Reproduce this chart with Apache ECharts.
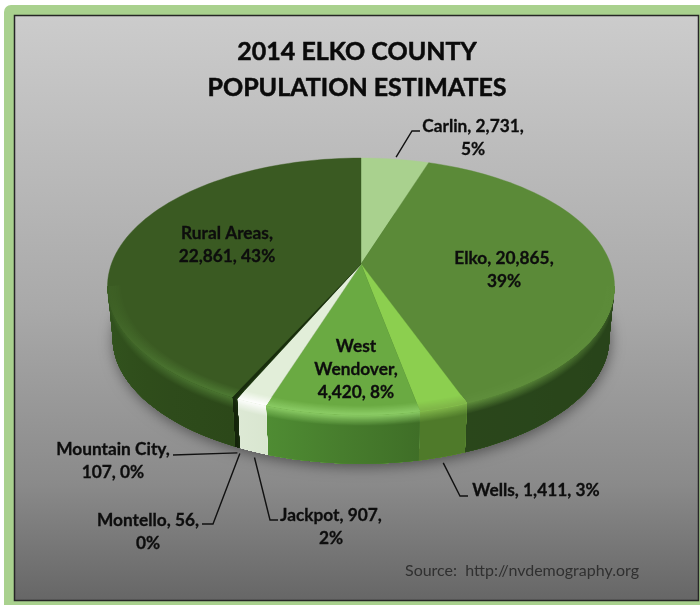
<!DOCTYPE html>
<html>
<head>
<meta charset="utf-8">
<style>html,body{margin:0;padding:0;background:#fff}#chart{width:700px;height:605px}</style>
<script src="https://cdn.jsdelivr.net/npm/echarts@6/dist/echarts.min.js"></script>
</head>
<body>
<div id="chart"></div>
<script>
// Population by place, clockwise from twelve o'clock
var places = ['Carlin', 'Elko', 'Wells', 'West Wendover', 'Jackpot', 'Montello', 'Mountain City', 'Rural Areas'];
var population = [2731, 20865, 1411, 4420, 907, 56, 107, 22861];

// Line breaks used by each slice label: {n} name, {v} value, {p} percent
var labelPatterns = ['{n}, {v},\n{p}', '{n}, {v},\n{p}', '{n}, {v}, {p}', 'West\nWendover,\n{v}, {p}',
  '{n}, {v},\n{p}', '{n}, {v},\n{p}', '{n},\n{v}, {p}', '{n},\n{v}, {p}'];

// Slice appearance: top face, rim highlight, wall colour at start and end of the slice
var faceColors = ['#a9d18e', '#5b8a38', '#8ccf4f', '#6aaa42', '#e2eed9', '#1d3510', '#182c0d', '#3a5a22'];
var rimColors = ['#a9d18e', '#5f8e3c', '#7fb548', '#8acb64', '#ffffff', '#1d3510', '#182c0d', '#4f7c34'];
var wallStart = ['#6b8f52', '#243d17', '#4f7a2a', '#3f6e27', '#d9e6d0', '#16280c', '#14240a', '#2c4819'];
var wallEnd = ['#6b8f52', '#2a471b', '#4f7a2a', '#4f8c33', '#dde9d5', '#16280c', '#14240a', '#3f6a28'];

// Label anchors and leader elbows, in canvas pixels
var labelLayout = [
  { x: 473, y: 138, leader: [[412, 131], [420, 131]], edge: 'top' },
  { x: 504, y: 269.5 },
  { x: 536, y: 490, leader: [[460, 496], [468, 496]], edge: 'bottom' },
  { x: 356, y: 369.5 },
  { x: 331, y: 526.5, leader: [[270, 520], [278, 520]], edge: 'bottom' },
  { x: 148, y: 531.5, leader: [[213, 524], [202, 524]], edge: 'bottom' },
  { x: 113, y: 460.5, leader: [[173, 455]], edge: 'bottom' },
  { x: 227, y: 244.5 }
];

// Perspective of the tilted disc
var disc = { cx: 361, cy: 264, a: 249.6, b: 124.5, k: 0.1748, depth: 52, shrink: 0.98 };
var labelFont = 'Lato, "Open Sans", sans-serif';

var total = population.reduce(function (s, v) { return s + v; }, 0);
var rows = [], running = 0;
population.forEach(function (v, i) {
  rows.push([i, v, running / total * 360, (running + v) / total * 360]);
  running += v;
});

// Angles where the disc's outline turns, beyond which the wall faces away
var rightTurn = Math.acos(-disc.k) * 180 / Math.PI;
var leftTurn = 360 - rightTurn;

// Projects a point of the disc to the screen; h runs 0 (top plane) to 1 (bottom plane)
function project(deg, r, h) {
  var t = deg * Math.PI / 180;
  var X = r * Math.sin(t), Y = r * Math.cos(t);
  var p = 1 + disc.k * Y;
  var s = 1 - (1 - disc.shrink) * h;
  return [disc.cx + s * disc.a * X / p, disc.cy + h * disc.depth - s * disc.b * Y / p];
}

function mix(c1, c2, t) {
  t = Math.max(0, Math.min(1, t));
  var a = echarts.color.parse(c1), b = echarts.color.parse(c2);
  return 'rgb(' + [0, 1, 2].map(function (n) { return Math.round(a[n] + (b[n] - a[n]) * t); }).join(',') + ')';
}
function steps(from, to, size) {
  var n = Math.max(1, Math.ceil((to - from) / size)), out = [];
  for (var i = 0; i <= n; i++) out.push(from + (to - from) * i / n);
  return out;
}
// How directly the rim at this angle faces the viewer, 0 at the outline turns
function frontness(deg) {
  return Math.max(0, (-Math.cos(deg * Math.PI / 180) - disc.k) / (1 - disc.k));
}
// Horizontal gradient along an arc, coloured per angle
function arcGradient(angles, colorAt) {
  var x0 = project(angles[0], 1, 0)[0], x1 = project(angles[angles.length - 1], 1, 0)[0];
  var span = (x1 - x0) || 1;
  var stops = angles.map(function (d) {
    return { offset: Math.max(0, Math.min(1, (project(d, 1, 0)[0] - x0) / span)), color: colorAt(d) };
  });
  return new echarts.graphic.LinearGradient(x0, 0, x1, 0, stops, true);
}

// Outer wall of the disc, with the soft shadow on the backdrop underneath.
// Each band runs from its own height to the floor, so later bands paint over earlier ones.
function renderWall(params, api) {
  var i = api.value(0), from = api.value(2), to = api.value(3);
  var children = [];
  if (i === 0) {
    var ring = steps(0, 360, 3).map(function (d) { return project(d, 1, 1); });
    children.push({
      type: 'polygon', shape: { points: ring },
      style: { fill: '#2a4a1b', shadowBlur: 14, shadowColor: 'rgba(0,0,0,0.45)', shadowOffsetY: 3, shadowOffsetX: 1 }
    });
  }
  var a0 = Math.max(from, rightTurn), a1 = Math.min(to, leftTurn);
  if (a1 <= a0) return { type: 'group', children: children };
  var angles = steps(a0, a1, 2.5);
  var sparse = steps(a0, a1, 8);
  var bandCount = 16, fadeEnd = 0.22;
  for (var b = 0; b < bandCount; b++) {
    var h0 = fadeEnd * b / (bandCount - 1);
    var upper = angles.map(function (d) { return project(d, 1, h0); });
    var lower = angles.slice().reverse().map(function (d) { return project(d, 1, 1); });
    children.push({
      type: 'polygon', shape: { points: upper.concat(lower) },
      style: {
        fill: arcGradient(sparse, function (d) {
          var wall = mix(wallStart[i], wallEnd[i], (d - from) / (to - from));
          var lit = Math.max(0.25, frontness(d)) * (1 - h0 / fadeEnd);
          return mix(wall, rimColors[i], lit);
        })
      }
    });
  }
  return { type: 'group', children: children };
}

// Top face of each slice with a soft lit rim along the front edge
function renderFace(params, api) {
  var i = api.value(0), from = api.value(2), to = api.value(3);
  var children = [];
  var angles = steps(from, to, 2);
  var outline = [project(0, 0, 0)].concat(angles.map(function (d) { return project(d, 1, 0); }));
  children.push({ type: 'polygon', shape: { points: outline }, style: { fill: faceColors[i], stroke: faceColors[i], lineWidth: 0.4 } });

  var a0 = Math.max(from, rightTurn), a1 = Math.min(to, leftTurn);
  if (a1 > a0) {
    var arc = steps(a0, a1, 2.5), sparse = steps(a0, a1, 8);
    var rimCount = 8, rimWidth = 0.05;
    for (var b = 0; b < rimCount; b++) {
      var r = 1 - rimWidth * (1 - b / rimCount);
      var inner = arc.map(function (d) { return project(d, r, 0); });
      var outer = arc.slice().reverse().map(function (d) { return project(d, 1, 0); });
      var weight = (b + 1) / rimCount;
      children.push({
        type: 'polygon', shape: { points: inner.concat(outer) },
        style: {
          fill: arcGradient(sparse, function (d) {
            return mix(faceColors[i], rimColors[i], frontness(d) * weight);
          })
        }
      });
    }
  }
  return { type: 'group', children: children };
}

function labelText(i) {
  return labelPatterns[i]
    .replace('{n}', places[i])
    .replace('{v}', population[i].toLocaleString('en-US'))
    .replace('{p}', Math.round(population[i] / total * 100) + '%');
}

// Slice labels, with leader lines for those placed outside the disc
function renderLabel(params, api) {
  var i = api.value(0), mid = (api.value(2) + api.value(3)) / 2;
  var spot = labelLayout[i], children = [];
  if (spot.leader) {
    var top = spot.edge === 'top';
    var start = project(mid, 1, top ? 0 : 1);
    start = [start[0] + 1, start[1] + (top ? -2 : 6)];
    children.push({
      type: 'polyline',
      shape: { points: [start].concat(spot.leader) },
      style: { fill: null, stroke: '#111', lineWidth: 1.4 }
    });
  }
  children.push({
    type: 'text',
    style: {
      x: spot.x, y: spot.y, text: labelText(i), align: 'center', verticalAlign: 'middle',
      fill: '#0d0d0d', stroke: '#0d0d0d', lineWidth: 0.3,
      font: 'bold 17.3px ' + labelFont, lineHeight: 23
    }
  });
  return { type: 'group', children: children };
}

var chart = echarts.init(document.getElementById('chart'), null, { renderer: 'canvas' });
chart.setOption({
  animation: false,
  backgroundColor: '#ffffff',
  title: {
    text: '2014 ELKO COUNTY\nPOPULATION ESTIMATES',
    left: 352, top: 29, textAlign: 'center', z: 5,
    textStyle: {
      fontFamily: labelFont, fontWeight: 'bold', fontSize: 25, lineHeight: 36, color: '#0a0a0a',
      textBorderColor: '#0a0a0a', textBorderWidth: 0.5
    }
  },
  graphic: [
    { type: 'rect', z: -10, shape: { x: 4, y: 5, width: 740, height: 640, r: 7 }, style: { fill: '#a9d18e' } },
    {
      type: 'rect', z: -9, shape: { x: 14.5, y: 15.5, width: 684, height: 585 },
      style: {
        stroke: '#262626', lineWidth: 1.5,
        fill: new echarts.graphic.LinearGradient(0, 0, 0, 1, [
          { offset: 0, color: '#cccccc' },
          { offset: 0.5, color: '#a9a9a9' },
          { offset: 0.8, color: '#8a8a8a' },
          { offset: 1, color: '#666666' }
        ])
      }
    },
    {
      type: 'text', z: 5, style: {
        x: 405, y: 571, text: 'Source:  http://nvdemography.org', verticalAlign: 'middle',
        fill: '#303030', font: '16px ' + labelFont
      }
    }
  ],
  series: [
    { type: 'custom', name: 'walls', coordinateSystem: 'none', silent: true, z: 1, data: rows, renderItem: renderWall },
    { type: 'custom', name: 'faces', coordinateSystem: 'none', silent: true, z: 2, data: rows, renderItem: renderFace },
    { type: 'custom', name: 'labels', coordinateSystem: 'none', silent: true, z: 3, data: rows, renderItem: renderLabel }
  ]
});
</script>
</body>
</html>
